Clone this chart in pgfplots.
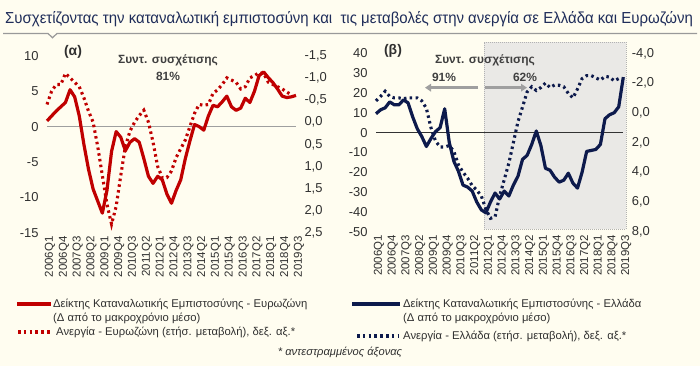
\documentclass[border=0pt]{standalone}
\usepackage{fontspec}
\setmainfont{Liberation Sans}
\newfontfamily\narrowfont{Liberation Sans}[FakeStretch=0.94]
\usepackage{pgfplots}
\pgfplotsset{compat=1.18}
\usetikzlibrary{arrows.meta}

\definecolor{bg}{HTML}{FFFDF0}
\definecolor{eured}{HTML}{C00000}
\definecolor{grnavy}{HTML}{0D1A4C}
\definecolor{shade}{HTML}{EAE9E6}
\definecolor{titlec}{HTML}{1F2D5A}
\definecolor{txt}{HTML}{303030}

\tikzset{dotline/.style={line width=3.1bp, dash pattern=on 2.5bp off 3.3bp, line cap=butt}}
\pgfplotsset{
  panel/.style={
    scale only axis, anchor=south west,
    xmin=0, xmax=54, clip=false,
    axis line style={draw=none}, tick style={draw=none},
    tick label style={font=\fontsize{13}{13}\selectfont, text=txt},
    /pgf/number format/assume math mode=true,
  },
  xlabs/.style={
    xtick={0,3,...,54},
    xticklabels={2006Q1,2006Q4,2007Q3,2008Q2,2009Q1,2009Q4,2010Q3,2011Q2,2012Q1,2012Q4,2013Q3,2014Q2,2015Q1,2015Q4,2016Q3,2017Q2,2018Q1,2018Q4,2019Q3},
    xticklabel style={rotate=90, anchor=east, yshift=-3bp, font=\fontsize{11.5}{11.5}\selectfont},
    yticklabel style={xshift=-5bp},
  },
  rightax/.style={
    y dir=reverse, yticklabel pos=right, xtick=\empty,
    yticklabel style={xshift=5bp, /pgf/number format/.cd, fixed, fixed zerofill, precision=1, use comma},
  },
}

\begin{document}
\begin{tikzpicture}
\useasboundingbox (0,0) rectangle (700bp,366bp);
\fill[bg] (0,0) rectangle (700bp,366bp);

% ---------- left panel (a)
\begin{axis}[panel, xlabs, at={(47bp,133bp)}, width=249bp, height=177.3bp,
  ymin=-15, ymax=10, ytick={-15,-10,-5,0,5,10}]
\addplot[gray!75, line width=1bp] coordinates {(0,0) (54,0)};
\addplot[eured, line width=3.2bp, line join=round] coordinates {
(0,0.8) (1,1.5) (2,2.2) (3,2.8) (4,3.4) (5,5.2) (6,4.2) (7,1.5) (8,-2.5) (9,-6.0)
(10,-8.8) (11,-10.5) (12,-12.2) (13,-9.0) (14,-3.5) (15,-0.7) (16,-1.5) (17,-3.4) (18,-2.2) (19,-1.7)
(20,-2.2) (21,-4.5) (22,-7.0) (23,-8.0) (24,-7.0) (25,-7.5) (26,-9.5) (27,-10.8) (28,-9.0) (29,-7.5)
(30,-4.5) (31,-2.0) (32,0.3) (33,0.0) (34,-0.5) (35,1.5) (36,3.0) (37,2.8) (38,3.5) (39,4.3)
(40,2.8) (41,2.3) (42,2.6) (43,4.0) (44,3.4) (45,5.0) (46,7.2) (47,7.7) (48,6.9) (49,6.2)
(50,5.3) (51,4.3) (52,4.1) (53,4.2) (54,4.4)};
\end{axis}
\begin{axis}[panel, rightax, at={(47bp,133bp)}, width=249bp, height=177.3bp,
  ymin=-1.5, ymax=2.5, ytick={-1.5,-1,-0.5,0,0.5,1,1.5,2,2.5}]
\addplot[eured, dotline] coordinates {
(0,-0.40) (1,-0.70) (2,-0.85) (3,-0.85) (4,-1.10) (5,-1.00) (6,-0.90) (7,-0.80) (8,-0.55) (9,-0.25)
(10,0.00) (11,0.55) (12,1.20) (13,1.85) (14,2.30) (15,1.90) (16,1.20) (17,0.55) (18,0.20) (19,0.00)
(20,-0.15) (21,-0.27) (22,0.00) (23,0.45) (24,1.00) (25,1.25) (26,1.25) (27,1.10) (28,0.80) (29,0.60)
(30,0.40) (31,0.10) (32,-0.20) (33,-0.40) (34,-0.38) (35,-0.40) (36,-0.65) (37,-0.73) (38,-0.85) (39,-1.00)
(40,-0.95) (41,-0.90) (42,-0.75) (43,-0.80) (44,-1.00) (45,-1.05) (46,-1.12) (47,-1.10) (48,-0.90) (49,-0.85)
(50,-0.80) (51,-0.75) (52,-0.68) (53,-0.62)};
\end{axis}

% ---------- right panel (b)
\begin{axis}[panel, xlabs, at={(376bp,134.3bp)}, width=247.3bp, height=178.4bp,
  ymin=-50, ymax=40, ytick={-50,-40,...,40}]
\addplot[fill=shade, draw=gray!60, line width=0.7bp, dash pattern=on 1bp off 1bp] coordinates {
(23.6,-48.8) (54.6,-48.8) (54.6,45.6) (23.6,45.6)} -- cycle;
\addplot[black!80, line width=0.8bp] coordinates {(0,0) (54,0)};
\addplot[grnavy, line width=3.2bp, line join=round] coordinates {
(0,9.5) (1,11.5) (2,12.5) (3,15.5) (4,14.0) (5,14.0) (6,16.5) (7,15.0) (8,8.0) (9,2.0)
(10,-2.0) (11,-7.0) (12,-3.0) (13,0.5) (14,2.5) (15,12.0) (16,-5.0) (17,-14.5) (18,-19.5) (19,-26.5)
(20,-27.5) (21,-29.5) (22,-35.0) (23,-39.0) (24,-40.5) (25,-35.0) (26,-30.5) (27,-33.5) (28,-29.5) (29,-32.0)
(30,-26.5) (31,-22.0) (32,-13.5) (33,-11.5) (34,-6.0) (35,0.8) (36,-6.5) (37,-18.0) (38,-19.0) (39,-22.5)
(40,-25.0) (41,-24.0) (42,-20.5) (43,-25.5) (44,-28.0) (45,-20.0) (46,-9.5) (47,-9.0) (48,-8.5) (49,-6.0)
(50,7.0) (51,9.0) (52,10.0) (53,13.0) (54,28.0)};
\end{axis}
\begin{axis}[panel, rightax, at={(376bp,134.3bp)}, width=247.3bp, height=178.4bp,
  ymin=-4, ymax=8, ytick={-4,-2,0,2,4,6,8}]
\addplot[grnavy, dotline] coordinates {
(0,-0.8) (1,-1.1) (2,-1.45) (3,-1.1) (4,-1.0) (5,-1.0) (6,-0.95) (7,-1.0) (8,-1.0) (9,-1.0)
(10,-0.8) (11,-0.3) (12,1.0) (13,1.9) (14,2.3) (15,2.3) (16,2.2) (17,2.6) (18,3.5) (19,4.0)
(20,4.4) (21,4.9) (22,5.2) (23,5.6) (24,6.5) (25,7.1) (26,7.0) (27,5.6) (28,4.5) (29,3.4)
(30,2.0) (31,0.6) (32,-0.4) (33,-1.4) (34,-1.75) (35,-1.5) (36,-1.7) (37,-2.0) (38,-1.7) (39,-1.87)
(40,-1.85) (41,-1.75) (42,-1.3) (43,-1.0) (44,-1.6) (45,-2.3) (46,-2.5) (47,-2.5) (48,-2.35) (49,-2.2)
(50,-2.45) (51,-2.4) (52,-2.15) (53,-2.3)};
\end{axis}

\begin{scope}[x=1bp,y=1bp]
% title
\node[anchor=west, text=titlec, inner sep=0pt] at (5,347) {\narrowfont\fontsize{16}{18}\selectfont Συσχετίζοντας την καταναλωτική εμπιστοσύνη και\ \ τις μεταβολές στην ανεργία σε Ελλάδα και Ευρωζώνη};
\draw[gray!80, line width=1.2bp, line join=miter] (3,332.5) -- (48,332.5) -- (52.5,328.3) -- (57,332.5) -- (697,332.5);

% annotations
\node[font=\bfseries\fontsize{14}{14}\selectfont, text=txt] at (73,314.3) {(α)};
\node[font=\bfseries\fontsize{12}{12}\selectfont, text=black!75] at (168,306) {Συντ. συσχέτισης};
\node[font=\bfseries\fontsize{12}{12}\selectfont, text=black!75] at (168,290) {81\%};
\node[font=\bfseries\fontsize{14}{14}\selectfont, text=txt] at (393,315) {(β)};
\node[font=\bfseries\fontsize{12}{12}\selectfont, text=black!75] at (485,306) {Συντ. συσχέτισης};
\node[font=\bfseries\fontsize{12}{12}\selectfont, text=black!75] at (444,289) {91\%};
\node[font=\bfseries\fontsize{12}{12}\selectfont, text=black!75] at (525,289) {62\%};
\draw[gray!75, line width=2.5bp, -{Triangle[length=6bp,width=7.5bp]}] (478,278.3) -- (425,278.3);
\draw[gray!75, line width=2.5bp, -{Triangle[length=6bp,width=7.5bp]}] (485,278.3) -- (527,278.3);

% legend
\begin{scope}[every node/.style={anchor=west, inner sep=0pt, text=txt, font=\fontsize{11.3}{13}\selectfont}]
\draw[eured, line width=3.5bp] (17,62) -- (51,62);
\node at (53,62) {Δείκτης Καταναλωτικής Εμπιστοσύνης - Ευρωζώνη};
\node at (53,48) {(Δ από το μακροχρόνιο μέσο)};
\draw[eured, dotline] (18,34) -- (52,34);
\node at (56,34) {Ανεργία - Ευρωζώνη (ετήσ. μεταβολή), δεξ. αξ.*};
\draw[grnavy, line width=3.5bp] (352,62) -- (400,62);
\node at (403,62) {Δείκτης Καταναλωτικής Εμπιστοσύνης - Ελλάδα};
\node at (403,48) {(Δ από το μακροχρόνιο μέσο)};
\draw[grnavy, dotline] (357,30) -- (398,30);
\node at (403,30) {Ανεργία - Ελλάδα (ετήσ. μεταβολή), δεξ. αξ.*};
\node[anchor=center, font=\itshape\fontsize{11.2}{13}\selectfont] at (340,14) {* αντεστραμμένος άξονας};
\end{scope}
\end{scope}
\end{tikzpicture}
\end{document}
